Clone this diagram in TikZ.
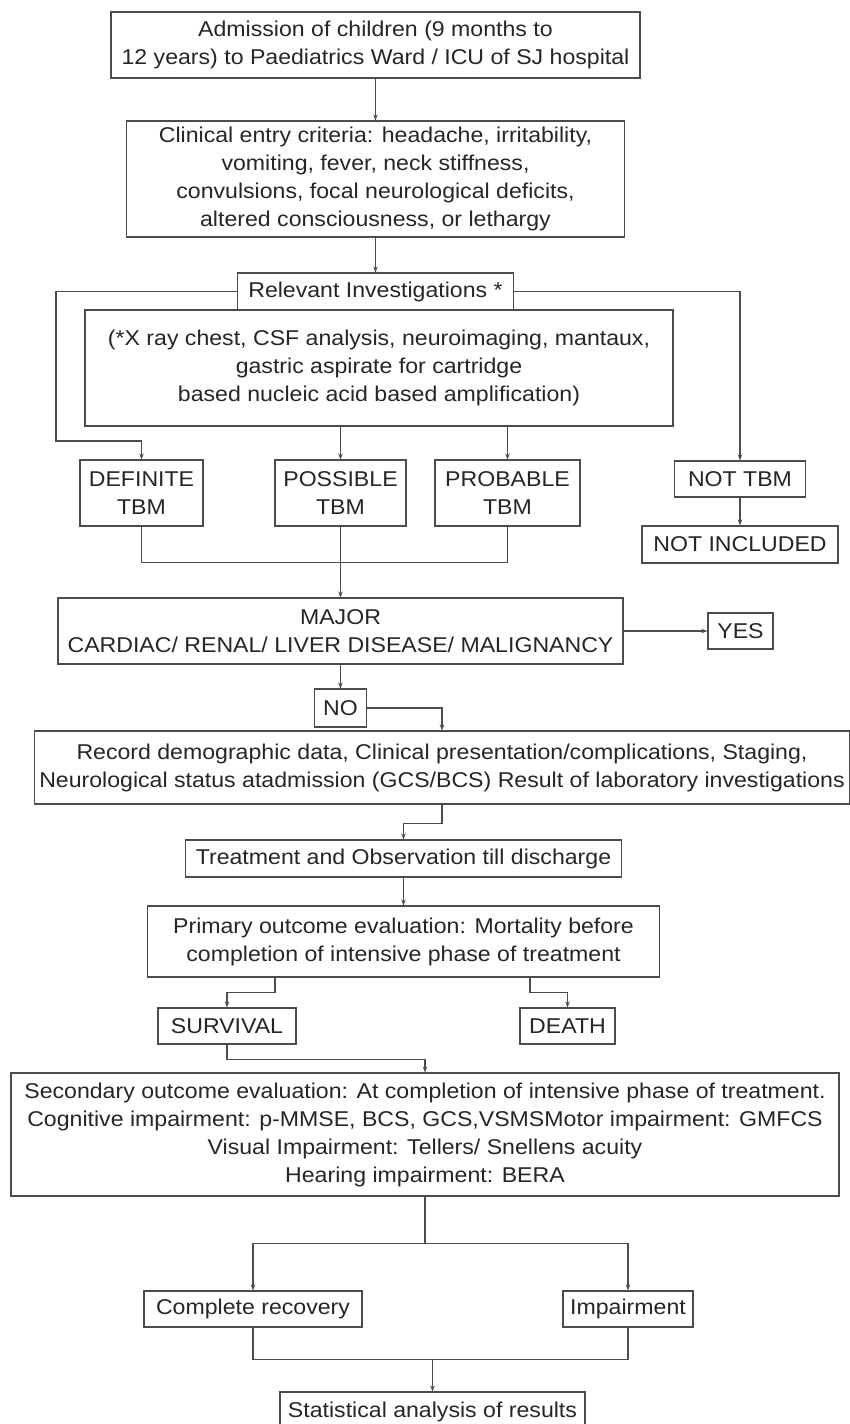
\documentclass[tikz,border=0pt]{standalone}
\usepackage{fontspec}
\setmainfont{Liberation Sans}[FakeStretch=1.08]
\usetikzlibrary{arrows.meta}
\begin{document}
\begin{tikzpicture}[x=1pt,y=-1pt,
  box/.style={draw=black!70,line width=1.1pt,align=center,inner sep=0pt,
    text=black!85,font=\fontsize{21.4}{28}\selectfont},
  ln/.style={draw=black!70,line width=1.1pt},
  arr/.style={ln,-{Stealth[length=6pt,width=4.5pt]}}]
\fill[white] (0,0) rectangle (850,1424);
\useasboundingbox (0,0) rectangle (850,1424);
\clip (0,0) rectangle (850,1424);
\node[box,minimum width=529pt,minimum height=66pt] (adm) at (375.5,45) {Admission of children (9 months to\\12 years) to Paediatrics Ward / ICU of SJ hospital};
\node[box,minimum width=498pt,minimum height=116pt] (crit) at (375.5,179) {Clinical entry criteria: headache, irritability,\\vomiting, fever, neck stiffness,\\convulsions, focal neurological deficits,\\altered consciousness, or lethargy};
\node[box,minimum width=276pt,minimum height=37pt] (relinv) at (375.5,291.5) {Relevant Investigations *};
\node[box,minimum width=588pt,minimum height=116pt] (xray) at (379,368) {(*X ray chest, CSF analysis, neuroimaging, mantaux,\\gastric aspirate for cartridge\\based nucleic acid based amplification)};
\node[box,minimum width=123pt,minimum height=66pt] (definite) at (141.5,493) {DEFINITE\\TBM};
\node[box,minimum width=131pt,minimum height=66pt] (possible) at (340.5,493) {POSSIBLE\\TBM};
\node[box,minimum width=145pt,minimum height=66pt] (probable) at (507.5,493) {PROBABLE\\TBM};
\node[box,minimum width=131pt,minimum height=36pt] (nottbm) at (740,479) {NOT TBM};
\node[box,minimum width=196pt,minimum height=37pt] (notinc) at (740,544.5) {NOT INCLUDED};
\node[box,minimum width=565pt,minimum height=66pt] (major) at (340.5,631) {MAJOR\\CARDIAC/ RENAL/ LIVER DISEASE/ MALIGNANCY};
\node[box,minimum width=65pt,minimum height=36pt] (yes) at (740.5,631) {YES};
\node[box,minimum width=52pt,minimum height=38pt] (no) at (340.5,708) {NO};
\node[box,minimum width=815pt,minimum height=73pt] (record) at (442,767.5) {Record demographic data, Clinical presentation/complications, Staging,\\Neurological status atadmission (GCS/BCS) Result of laboratory investigations};
\node[box,minimum width=436pt,minimum height=37pt] (treat) at (403.5,858.5) {Treatment and Observation till discharge};
\node[box,minimum width=512pt,minimum height=71pt] (primary) at (403.5,941.5) {Primary outcome evaluation: Mortality before\\completion of intensive phase of treatment};
\node[box,minimum width=138pt,minimum height=36pt] (survival) at (227,1026) {SURVIVAL};
\node[box,minimum width=95pt,minimum height=36pt] (death) at (567.5,1026) {DEATH};
\node[box,minimum width=828pt,minimum height=123pt] (second) at (425,1134.5) {Secondary outcome evaluation: At completion of intensive phase of treatment.\\Cognitive impairment: p-MMSE, BCS, GCS,VSMSMotor impairment: GMFCS\\Visual Impairment: Tellers/ Snellens acuity\\Hearing impairment: BERA};
\node[box,minimum width=218pt,minimum height=36pt] (recovery) at (253,1309) {Complete recovery};
\node[box,minimum width=130pt,minimum height=36pt] (impair) at (628,1309) {Impairment};
\node[box,minimum width=305pt,minimum height=40pt] (stats) at (432.5,1412) {Statistical analysis of results};
\draw[arr] (adm) -- (crit);
\draw[arr] (crit) -- (relinv);
\draw[arr] (relinv.west) -| (56,441) -| (definite.north);
\draw[arr] (relinv.east) -| (nottbm.north);
\draw[arr] (xray.south -| possible.north) -- (possible.north);
\draw[arr] (xray.south -| probable.north) -- (probable.north);
\draw[arr] (nottbm) -- (notinc);
\draw[ln] (definite.south) -- ++(0,36) -| (probable.south);
\draw[arr] (possible.south) -- (major.north);
\draw[arr] (major.east) -- (yes.west);
\draw[arr] (major.south) -- (no.north);
\draw[arr] (no.east) -| (record.north);
\draw[arr] (record.south) -- ++(0,19) -| (treat.north);
\draw[arr] (treat) -- (primary);
\draw[arr] ([xshift=-128.5pt]primary.south) -- ++(0,15) -| (survival.north);
\draw[arr] ([xshift=126.5pt]primary.south) -- ++(0,15) -| (death.north);
\draw[arr] (survival.south) -- ++(0,15) -| (second.north);
\draw[ln] (second.south) -- ++(0,47) coordinate (split);
\draw[arr] (split) -| (recovery.north);
\draw[arr] (split) -| (impair.north);
\draw[ln] (recovery.south) -- ++(0,32) coordinate (joint) -| (impair.south);
\draw[arr] (stats.north |- joint) -- (stats.north);
\end{tikzpicture}
\end{document}
